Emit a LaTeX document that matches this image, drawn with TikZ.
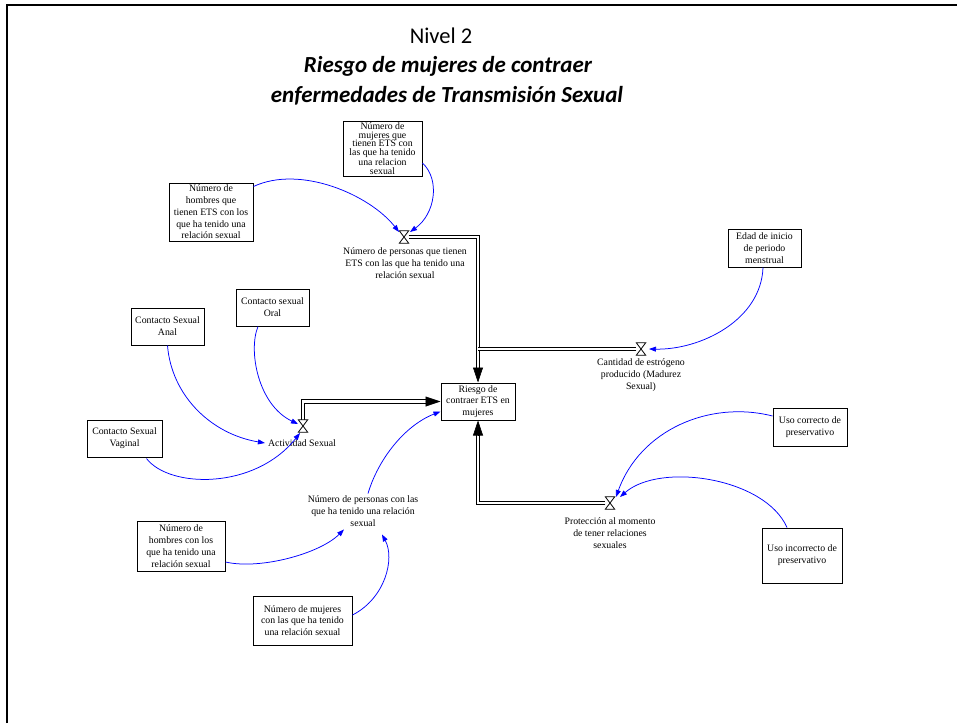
\documentclass[tikz,border=0pt]{standalone}
\usepackage{fontspec}
\setmainfont{Liberation Serif}
\newfontfamily\titlefont{Carlito}
\usetikzlibrary{arrows.meta,calc}

\newcommand\vtext{\fontsize{9.8}{11.8}\selectfont}
\newcommand\vtight{\fontsize{9.8}{8.8}\selectfont}

\tikzset{
  box/.style={draw=black, line width=1pt, fill=white, inner sep=0pt, align=center, font=\vtext},
  lbl/.style={inner sep=0pt, align=center, font=\vtext},
  info/.style={draw=blue, line width=0.75pt, -{Triangle[length=7pt,width=5pt]}},
  pipe/.style={draw=black, line width=1pt, double=white, double distance=2.6pt},
  flowtip/.style={-{Triangle[length=15pt,width=10pt]}, line width=0.6pt, draw=black, fill=black},
  valvenode/.style={inner sep=0pt, minimum width=9pt, minimum height=12pt},
  valveshape/.style={draw=black, fill=white, line width=0.8pt, line join=miter},
  ttl/.style={anchor=base, inner sep=0pt, font=\titlefont\fontsize{22.5}{27}\selectfont},
  ttlb/.style={ttl, font=\titlefont\bfseries\itshape\fontsize{23}{27}\selectfont},
}

\begin{document}
\begin{tikzpicture}[x=1pt, y=-1pt]
\useasboundingbox (0,0) rectangle (957,723);

% page frame (top and left edges)
\draw[line width=2pt] (7,723) -- (7,5) -- (957,5);

% title
\node[ttl]  (t1) at (441,43)  {Nivel 2};
\node[ttlb] (t2) at (448,72)  {Riesgo de mujeres de contraer};
\node[ttlb] (t3) at (447,102) {enfermedades de Transmisión Sexual};

% auxiliary variables (boxes)
\node[box, minimum width=79pt, minimum height=55pt, font=\vtight] (mujets) at (382.5,148.5)
  {Número de\\mujeres que\\tienen ETS con\\las que ha tenido\\una relacion\\sexual};
\node[box, minimum width=84pt, minimum height=58pt] (homets) at (211,212)
  {Número de\\hombres que\\tienen ETS con los\\que ha tenido una\\relación sexual};
\node[box, minimum width=73pt, minimum height=38pt] (edad) at (764.5,248)
  {Edad de inicio\\de periodo\\menstrual};
\node[box, minimum width=73pt, minimum height=37pt] (oral) at (272.5,307.5)
  {Contacto sexual\\Oral};
\node[box, minimum width=73pt, minimum height=37pt] (anal) at (167.5,326.5)
  {Contacto Sexual\\Anal};
\node[box, minimum width=74pt, minimum height=37pt] (riesgo) at (478,401.5)
  {Riesgo de\\contraer ETS en\\mujeres};
\node[box, minimum width=75pt, minimum height=37pt] (vaginal) at (124.5,438.5)
  {Contacto Sexual\\Vaginal};
\node[box, minimum width=74pt, minimum height=38pt] (correcto) at (810,427)
  {Uso correcto de\\preservativo};
\node[box, minimum width=88pt, minimum height=50pt] (homcon) at (181,546)
  {Número de\\hombres con los\\que ha tenido una\\relación sexual};
\node[box, minimum width=80pt, minimum height=55pt] (incorrecto) at (802,555.5)
  {Uso incorrecto de\\preservativo};
\node[box, minimum width=99pt, minimum height=49pt] (mujcon) at (302.5,620.5)
  {Número de mujeres\\con las que ha tenido\\una relación sexual};

% valves
\node[valvenode] (v1) at (404,237) {};
\node[valvenode] (vc) at (641,349) {};
\node[valvenode] (va) at (303,426) {};
\node[valvenode] (vp) at (610,503) {};

% flow pipes into the stock
\draw[pipe] (v1) -| ($(riesgo.north)+(0,-14)$);
\draw[pipe] (vc) -- (vc -| riesgo.north);
\draw[pipe] (va) |- ($(riesgo.west)+(-14,0)$);
\draw[pipe] (vp) -| ($(riesgo.south)+(0,14)$);
\draw[flowtip] ($(riesgo.north)+(0,-15)$) -- (riesgo.north);
\draw[flowtip] ($(riesgo.west)+(-15,0)$) -- (riesgo.west);
\draw[flowtip] ($(riesgo.south)+(0,15)$) -- (riesgo.south);

\foreach \v in {v1,vc,va,vp}
  \draw[valveshape] (\v.north west) -- (\v.north east) -- (\v.south west) -- (\v.south east) -- cycle;

% flow labels
\node[lbl] (lbl1) at (405,263)
  {Número de personas que tienen\\ETS con las que ha tenido una\\relación sexual};
\node[lbl] (cantlbl) at (641,375)
  {Cantidad de estrógeno\\producido (Madurez\\Sexual)};
\node[lbl] (actlbl) at (302,443) {Actividad Sexual};
\node[lbl] (protlbl) at (610,533)
  {Protección al momento\\de tener relaciones\\sexuales};
\node[lbl] (perscon) at (363,511)
  {Número de personas con las\\que ha tenido una relación\\sexual};

% information links
\draw[info] ($(homets.north east)+(0,4)$) .. controls +(47,-22) and +(-29,-37) .. ($(v1)+(-5,-5)$);
\draw[info] ($(mujets.east)+(0,14.5)$) .. controls +(18,17) and +(25,-18) .. ($(v1)+(6,-5)$);
\draw[info] ($(edad.south)+(-1.5,0)$) .. controls +(-2,53) and +(51,1) .. ($(vc)+(8,0)$);
\draw[info] ($(oral.south)+(-14.5,0)$) .. controls +(-10,24) and +(-40,-19) .. ($(va)+(-5,-2)$);
\draw[info] (anal.south) .. controls +(4,50) and +(-54,-9) .. ($(actlbl.west)+(-3,0)$);
\draw[info] ($(vaginal.south)+(22,1)$) .. controls +(23,30) and +(-45,57) .. ($(va)+(-3,7)$);
\draw[info] ($(perscon.north)+(5,-2)$) .. controls +(10,-34) and +(-36,14) .. ($(riesgo.west)+(0,10)$);
\draw[info] ($(homcon.east)+(0,16)$) .. controls +(35,8) and +(-24,24) .. ($(perscon.south)+(-19,3)$);
\draw[info] ($(mujcon.east)+(0,-5.5)$) .. controls +(33,-17) and +(13,24) .. ($(perscon.south)+(19,8)$);
\draw[info] ($(correcto.west)+(0,-11)$) .. controls +(-63,-16) and +(24,-67) .. ($(vp)+(6,-6)$);
\draw[info] ($(incorrecto.north)+(-15,0)$) .. controls +(-22,-50) and +(40,-35) .. ($(vp)+(10,-6)$);
\end{tikzpicture}
\end{document}
